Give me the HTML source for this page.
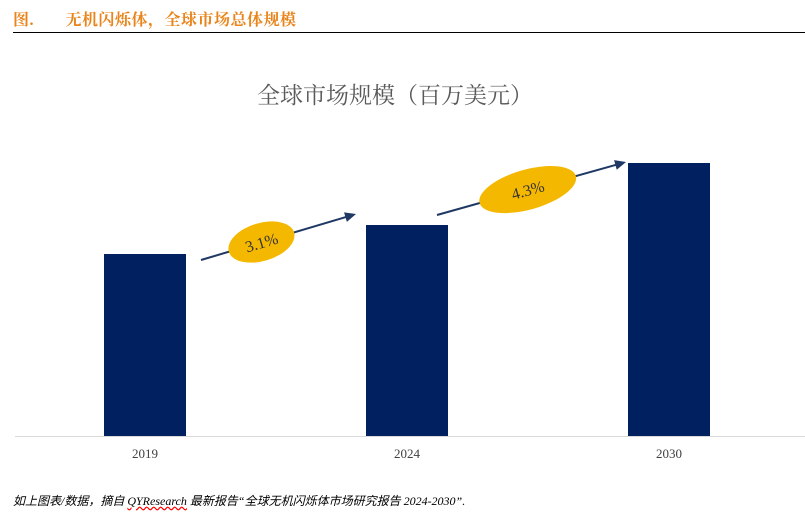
<!DOCTYPE html>
<html><head><meta charset="utf-8"><style>
body{margin:0;width:805px;height:532px;background:#fff;overflow:hidden;position:relative;font-family:"Liberation Serif","Noto Serif CJK SC",serif}
#hdr{position:absolute;left:13px;top:7px;color:#e8841a;font-weight:bold;font-size:16px;letter-spacing:0.5px;font-family:"Liberation Serif","Noto Serif CJK SC",serif}
#hline{position:absolute;left:13px;top:32px;width:792px;height:1px;background:#000}
#foot{position:absolute;left:13px;top:492px;font-size:12px;font-style:italic;color:#000;font-family:"Liberation Serif","Noto Sans CJK SC",sans-serif}
</style></head><body>
<div id="hdr">图.&nbsp;&nbsp;&nbsp;&nbsp;&nbsp;&nbsp;&nbsp;无机闪烁体，全球市场总体规模</div>
<div id="hline"></div>
<svg id="chart" width="805" height="532" style="position:absolute;left:0;top:0">
<text x="395" y="103" text-anchor="middle" font-size="23" fill="#595959" font-family="Liberation Serif,Noto Serif CJK SC,serif">全球市场规模（百万美元）</text>
<line x1="15" y1="436.5" x2="805" y2="436.5" stroke="#d9d9d9"/>
<g id="bars"></g>
<g id="growth"></g>
</svg>
<div id="foot">如上图表/数据，摘自 <span style="text-decoration:underline wavy red">QYResearch</span> 最新报告“全球无机闪烁体市场研究报告 2024-2030”.</div>
<script>
const categories=["2019","2024","2030"];
const values=[182,211,273];
const growthLabels=["3.1%","4.3%"];
const NS="http://www.w3.org/2000/svg";
const baseY=436, topY=163, maxV=273;
const y=v=>baseY-(v/maxV)*(baseY-topY);
const xCenter=i=>145+i*262;
const bw=82;
const sx=[15,-11], sy=[6,-10], ex=[-10,-2], ey=[-11,-1], frac=[0.39,0.48], rxs=[34,50], rys=[19,20];
const bars=document.getElementById('bars');
categories.forEach((c,i)=>{
 const r=document.createElementNS(NS,'rect');
 r.setAttribute('x',xCenter(i)-bw/2);r.setAttribute('y',y(values[i]));
 r.setAttribute('width',bw);r.setAttribute('height',baseY-y(values[i]));
 r.setAttribute('fill','#002060');
 
 
 bars.appendChild(r);
 const t=document.createElementNS(NS,'text');
 t.setAttribute('x',xCenter(i));t.setAttribute('y',458);
 t.setAttribute('text-anchor','middle');t.setAttribute('font-size','13');t.setAttribute('fill','#404040');
 t.textContent=c;
 
 
 bars.appendChild(t);
});
const g=document.getElementById('growth');
growthLabels.forEach((lab,i)=>{
 const x1=xCenter(i)+bw/2+sx[i], x2=xCenter(i+1)-bw/2+ex[i];
 const y1=y(values[i])+sy[i], y2=y(values[i+1])+ey[i];
 const grp=document.createElementNS(NS,'g');
 
 
 const ang=Math.atan2(y2-y1,x2-x1);
 const l=document.createElementNS(NS,'line');
 l.setAttribute('x1',x1);l.setAttribute('y1',y1);l.setAttribute('x2',x2-8*Math.cos(ang));l.setAttribute('y2',y2-8*Math.sin(ang));
 l.setAttribute('stroke','#1f3864');l.setAttribute('stroke-width','2');
 grp.appendChild(l);
 const p=document.createElementNS(NS,'polygon');
 const h=11,w=5;
 const bx=x2-h*Math.cos(ang),by=y2-h*Math.sin(ang);
 p.setAttribute('points',`${x2},${y2} ${bx-w*Math.sin(ang)},${by+w*Math.cos(ang)} ${bx+w*Math.sin(ang)},${by-w*Math.cos(ang)}`);
 p.setAttribute('fill','#1f3864');
 grp.appendChild(p);
 const cx=x1+(x2-x1)*frac[i], cy=y1+(y2-y1)*frac[i];
 const deg=ang*180/Math.PI;
 const e=document.createElementNS(NS,'ellipse');
 e.setAttribute('cx',cx);e.setAttribute('cy',cy);e.setAttribute('rx',rxs[i]);e.setAttribute('ry',rys[i]);
 e.setAttribute('fill','#f5b800');e.setAttribute('transform',`rotate(${deg} ${cx} ${cy})`);
 grp.appendChild(e);
 const t=document.createElementNS(NS,'text');
 t.setAttribute('x',cx);t.setAttribute('y',cy+6);t.setAttribute('text-anchor','middle');
 t.setAttribute('font-size','16');t.setAttribute('fill','#333');
 t.setAttribute('transform',`rotate(${deg} ${cx} ${cy})`);
 t.textContent=lab;
 grp.appendChild(t);
 g.appendChild(grp);
});
</script>
</body></html>
